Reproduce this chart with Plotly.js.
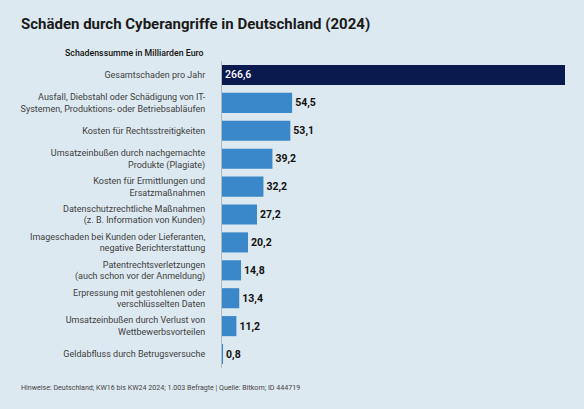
<!DOCTYPE html>
<html>
<head>
<meta charset="utf-8">
<script src="https://cdn.plot.ly/plotly-3.0.1.min.js"></script>
<style>
  html, body { margin: 0; padding: 0; background: #dde9f0; }
  #chart { width: 584px; height: 409px; }
</style>
</head>
<body>
<div id="chart"></div>
<script>
// categories top to bottom
const categories = [
  "Gesamtschaden pro Jahr",
  "Ausfall, Diebstahl oder Schädigung von IT-<br>Systemen, Produktions- oder Betriebsabläufen",
  "Kosten für Rechtsstreitigkeiten",
  "Umsatzeinbußen durch nachgemachte<br>Produkte (Plagiate)",
  "Kosten für Ermittlungen und<br>Ersatzmaßnahmen",
  "Datenschutzrechtliche Maßnahmen<br>(z. B. Information von Kunden)",
  "Imageschaden bei Kunden oder Lieferanten,<br>negative Berichterstattung",
  "Patentrechtsverletzungen<br>(auch schon vor der Anmeldung)",
  "Erpressung mit gestohlenen oder<br>verschlüsselten Daten",
  "Umsatzeinbußen durch Verlust von<br>Wettbewerbsvorteilen",
  "Geldabfluss durch Betrugsversuche"
];
const damage = [266.6, 54.5, 53.1, 39.2, 32.2, 27.2, 20.2, 14.8, 13.4, 11.2, 0.8];

const navy = '#0b1a4e';
const blue = '#3a87c9';
const font = 'Roboto, sans-serif';

const trace = {
  type: 'bar',
  orientation: 'h',
  y: categories,
  x: damage,
  marker: { color: damage.map((v, i) => i === 0 ? navy : blue) },
  texttemplate: '%{x:.1f}',
  textposition: damage.map((v, i) => i === 0 ? 'inside' : 'outside'),
  insidetextanchor: 'start',
  insidetextfont: { color: '#ffffff', size: 10.5, family: font, weight: 500 },
  outsidetextfont: { color: '#111111', size: 10.5, family: font, weight: 700 },
  cliponaxis: false,
  hoverinfo: 'none'
};

// plot area: x 222..565, y 61..368
const L = 222, W = 343, T = 61, H = 307;

const layout = {
  width: 584,
  height: 409,
  paper_bgcolor: '#dde9f0',
  plot_bgcolor: '#dde9f0',
  separators: ',.',
  margin: { l: L, r: 584 - L - W, t: T, b: 409 - T - H },
  bargap: 0.28,
  showlegend: false,
  font: { family: font, color: '#333' },
  xaxis: {
    range: [0, 266.6],
    showgrid: false,
    zeroline: false,
    showticklabels: false,
    showline: false,
    fixedrange: true
  },
  yaxis: {
    autorange: 'reversed',
    showgrid: false,
    zeroline: false,
    showline: true,
    linecolor: '#b0b8c0',
    linewidth: 1,
    ticks: '',
    ticklabelstandoff: 14,
    tickfont: { size: 9, color: '#404040', family: font },
    fixedrange: true
  },
  annotations: [
    {
      text: 'Schäden durch Cyberangriffe in Deutschland (2024)',
      xref: 'paper', yref: 'paper',
      x: (19 - L) / W, y: 1 + (T - 24) / H,
      xanchor: 'left', yanchor: 'middle',
      showarrow: false,
      font: { size: 15, color: '#1a1a1a', family: font, weight: 700 }
    },
    {
      text: 'Schadenssumme in Milliarden Euro',
      xref: 'paper', yref: 'paper',
      x: (206 - L) / W, y: 1 + (T - 53) / H,
      xanchor: 'right', yanchor: 'middle',
      showarrow: false,
      font: { size: 8.8, color: '#111', family: font, weight: 500 }
    },
    {
      text: 'Hinweise: Deutschland; KW16 bis KW24 2024; 1.003 Befragte | Quelle: Bitkom; ID 444719',
      xref: 'paper', yref: 'paper',
      x: (19 - L) / W, y: -(387 - T - H) / H,
      xanchor: 'left', yanchor: 'middle',
      showarrow: false,
      font: { size: 7.1, color: '#444', family: font }
    }
  ]
};

Plotly.newPlot('chart', [trace], layout, { displayModeBar: false, staticPlot: true });
</script>
</body>
</html>
